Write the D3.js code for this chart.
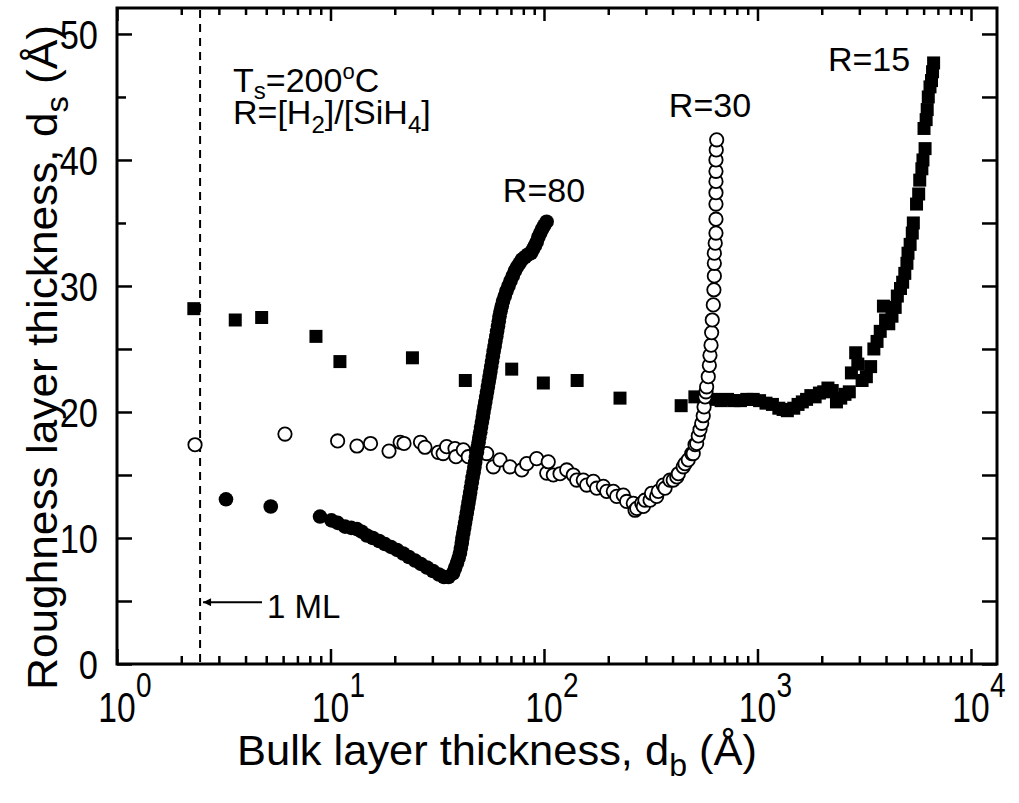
<!DOCTYPE html>
<html><head><meta charset="utf-8">
<script src="https://cdn.jsdelivr.net/npm/d3@7"></script>
<style>
body{margin:0;background:#fff}
text{font-family:Arial,"Liberation Sans",sans-serif;fill:#000}
</style>
</head><body>
<svg id="c" width="1019" height="803"></svg>
<script>
// ---- data ----
const xMajorTicks = [1, 10, 100, 1000, 10000];
const xTickBase = ["10", "10", "10", "10", "10"];
const xTickExp = ["0", "1", "2", "3", "4"];
const yLabelTicks = [0, 10, 20, 30, 40, 50];
const yAllTicks = [0, 5, 10, 15, 20, 25, 30, 35, 40, 45, 50];
const yShortLeft = [35, 45];
const monolayer = 2.45;

// R = 15 (filled squares)
const r15X = [2.29, 3.58, 4.76, 8.55, 11.07, 24.2, 42.8, 70.6, 99.3, 143, 227, 439, 509,
  631, 676, 724, 776, 832, 891, 955, 1023, 1096, 1175, 1259, 1318, 1380, 1479, 1549, 1622, 1698, 1778,
  1862, 1950, 2042, 2138, 2239, 2344, 2455, 2570, 2692, 2754, 2884, 2951, 3090, 3236, 3388, 3508, 3631,
  3758, 3890, 3981, 4121, 4266, 4416, 4519, 4677, 4786, 4898, 5012, 5070, 5188, 5309, 5370, 5559, 5689,
  5754, 5888, 5957, 6095, 6026, 6166, 6237, 6310, 6427, 6531, 6607, 6683];
const r15Y = [28.2, 27.3, 27.5, 26.0, 24.0, 24.3, 22.5, 23.4, 22.3, 22.5, 21.1, 20.5, 21.2,
  21.0, 20.9, 21.0, 20.9, 20.9, 21.0, 21.0, 20.9, 20.7, 20.6, 20.3, 20.2, 20.1, 20.3, 20.6, 20.8, 21.0, 21.3,
  21.2, 21.5, 21.6, 21.9, 21.7, 20.8, 21.1, 21.4, 21.6, 23.1, 24.7, 23.8, 22.5, 22.8, 23.6, 25.0, 25.6,
  26.4, 28.4, 27.3, 27.0, 27.6, 28.3, 29.2, 29.8, 30.3, 31.0, 31.8, 32.6, 33.3, 34.2, 35.0, 36.5, 37.3,
  38.4, 39.3, 40.0, 40.9, 42.5, 43.2, 44.0, 45.0, 45.8, 46.3, 47.0, 47.7, 48.2];

// R = 30 (open circles)
const r30X = [2.32, 6.12, 10.8, 13.3, 15.4, 18.8, 21.2, 22.1, 26.4, 27.7, 32.0, 33.7, 35.0, 38.3, 38.7,
  41.9, 44.2, 48.4, 53.9, 57.9, 62.2, 69.3, 78.7, 83.0, 92.4, 103, 104.7, 110.6, 118.9, 127.8, 137.2,
  142.3, 152.8, 158.5, 170.3, 176.6, 189.6, 196.7, 211.2, 219.1, 235.2, 244, 262, 267, 272, 287, 292,
  297, 314, 319, 337, 343, 362, 369, 389, 403, 419, 426, 449, 458, 474, 492, 500, 510, 519, 528, 538,
  548, 557, 562, 568, 574, 578, 588, 595, 599, 606, 610, 614, 621, 625, 628, 628, 628, 634, 639, 639,
  639, 639, 639, 639, 639, 641, 644];
const r30Y = [17.4, 18.25, 17.7, 17.3, 17.5, 16.9, 17.6, 17.5, 17.6, 17.2, 16.8, 16.7, 17.25, 17.1, 16.45,
  17.0, 16.45, 16.85, 16.7, 15.65, 16.2, 15.65, 15.4, 15.9, 16.3, 15.15, 16.05, 15.0, 15.1, 15.4, 15.0,
  14.6, 14.6, 14.2, 14.5, 13.95, 14.1, 13.7, 13.7, 13.3, 13.4, 12.9, 12.75, 12.2, 12.35, 12.75, 12.5,
  13.0, 13.0, 13.55, 13.3, 13.7, 14.2, 13.95, 14.6, 14.6, 14.85, 15.1, 15.65, 15.9, 16.2, 16.7, 16.7,
  17.4, 17.5, 18.1, 18.6, 19.1, 19.7, 20.4, 21.2, 21.6, 22.0, 22.8, 23.7, 24.5, 25.3, 26.3, 27.3, 28.5,
  29.7, 30.8, 31.8, 32.6, 33.4, 34.2, 35.3, 36.5, 37.4, 38.3, 39.1, 40.0, 40.8, 41.6];

// R = 80 (filled circles)
const r80X = [3.24, 5.25, 8.93, 10.1, 10.8, 11.7, 12.5, 13.3, 14.0, 14.8, 15.8, 16.9, 18.0, 19.2, 20.5,
  21.9, 23.3, 24.9, 26.5, 28.3, 30.2, 32.2, 34.0, 35.7,
  37.5, 38.3, 39.1, 39.8, 40.4, 40.8, 41.2, 41.5, 41.9, 42.3, 42.7, 43.1, 43.5, 43.9, 44.3, 44.7, 45.1,
  45.5, 45.9, 46.3, 46.8, 47.2, 47.6, 48.0, 48.5, 48.9, 49.4, 49.8, 50.3, 50.7, 51.2, 51.7, 52.1, 52.6,
  53.1, 53.6, 54.1, 54.6, 55.1, 55.6, 56.1, 56.6, 57.1, 57.6, 58.1, 58.7, 59.2, 59.8, 60.3, 60.9, 61.4,
  61.9, 62.6, 63.4, 64.3, 65.5, 66.7, 68.2, 69.7, 71.4, 73.1, 74.7, 76.8, 78.9, 81.5, 84.2, 86.9, 88.8,
  90.7, 92.5, 94.2, 96.0, 97.9, 100.3, 102.9];
const r80Y = [13.07, 12.5, 11.7, 11.4, 11.2, 10.9, 10.8, 10.7, 10.5, 10.2, 10.0, 9.76, 9.52, 9.29, 9.05,
  8.77, 8.49, 8.21, 7.94, 7.66, 7.38, 7.10, 6.90, 6.90,
  7.2, 7.6, 8.0, 8.4, 8.8, 9.2, 9.6, 10.0, 10.4, 10.8, 11.2, 11.6, 12.0, 12.4, 12.8, 13.2, 13.6,
  14.0, 14.4, 14.8, 15.2, 15.6, 16.0, 16.4, 16.8, 17.2, 17.6, 18.0, 18.4, 18.8, 19.2, 19.6, 20.0, 20.4,
  20.8, 21.2, 21.6, 22.0, 22.4, 22.8, 23.2, 23.6, 24.0, 24.4, 24.8, 25.2, 25.6, 26.0, 26.4, 26.8, 27.2,
  27.6, 28.0, 28.4, 28.8, 29.2, 29.6, 30.0, 30.4, 30.8, 31.2, 31.5, 31.8, 32.1, 32.3, 32.5, 32.6, 32.9,
  33.2, 33.5, 33.9, 34.2, 34.5, 34.8, 35.1];

const seriesLabels = [
  {text: "R=80", x: 100, y: 36.7},
  {text: "R=30", x: 599, y: 43.4},
  {text: "R=15", x: 3330, y: 47.1}
];

// ---- layout ----
const L = 117, R = 997, T = 8, B = 664;
const svg = d3.select("#c");
const x = d3.scaleLog().domain([1, 13240]).range([L, R]);
const y = d3.scaleLinear().domain([0, 52.06]).range([B, T]);

const minorX = x.ticks().filter(v => !xMajorTicks.includes(v) && v < 10000);

function axis(gen, tr) {
  const g = svg.append("g").attr("transform", tr).call(gen);
  g.select(".domain").remove();
  g.selectAll(".tick line").attr("stroke", "#000").attr("stroke-width", 2.5);
  g.selectAll(".tick text").remove();
  return g;
}
axis(d3.axisBottom(x).tickValues(xMajorTicks).tickSize(-15).tickFormat(""), `translate(0,${B})`);
axis(d3.axisBottom(x).tickValues(minorX).tickSize(-8).tickFormat(""), `translate(0,${B})`);
axis(d3.axisTop(x).tickValues(xMajorTicks).tickSize(-13).tickFormat(""), `translate(0,${T})`);
axis(d3.axisTop(x).tickValues(minorX).tickSize(-7).tickFormat(""), `translate(0,${T})`);
axis(d3.axisLeft(y).tickValues(yAllTicks.filter(v => !yShortLeft.includes(v))).tickSize(-15).tickFormat(""), `translate(${L},0)`);
axis(d3.axisLeft(y).tickValues(yShortLeft).tickSize(-9).tickFormat(""), `translate(${L},0)`);
axis(d3.axisRight(y).tickValues(yAllTicks).tickSize(-15).tickFormat(""), `translate(${R},0)`);

// frame
svg.append("rect").attr("x", L).attr("y", T).attr("width", R - L).attr("height", B - T)
  .attr("fill", "none").attr("stroke", "#000").attr("stroke-width", 3);

// narrow-looking text helper
function ntext(g, px, py, str, size, anchor, sx) {
  return g.append("text").attr("transform", `translate(${px},${py}) scale(${sx},1)`)
    .attr("text-anchor", anchor).attr("font-size", size).text(str);
}

// y tick labels
const yl = svg.append("g");
yLabelTicks.forEach(v => ntext(yl, L - 19, y(v) + 15, String(v), 41, "end", 0.84));

// x tick labels
const xl = svg.append("g");
xMajorTicks.forEach((v, i) => {
  ntext(xl, x(v), 722, xTickBase[i], 42, "middle", 0.8);
  ntext(xl, x(v) + 19, 697, xTickExp[i], 35, "start", 0.8);
});

// axis titles
const xt = svg.append("text").attr("x", 237).attr("y", 765).attr("font-size", 42)
  .attr("textLength", 520).attr("lengthAdjust", "spacingAndGlyphs");
xt.append("tspan").text("Bulk layer thickness, d");
xt.append("tspan").attr("font-size", 31).attr("dy", 11).text("b");
xt.append("tspan").attr("dy", -11).text(" (Å)");

const yt = svg.append("text").attr("transform", "translate(57,690) rotate(-90)").attr("font-size", 42)
  .attr("textLength", 665).attr("lengthAdjust", "spacingAndGlyphs");
yt.append("tspan").text("Roughness layer thickness, d");
yt.append("tspan").attr("font-size", 31).attr("dy", 11).text("s");
yt.append("tspan").attr("dy", -11).text(" (Å)");

// monolayer dashed line
svg.append("line").attr("x1", x(monolayer)).attr("x2", x(monolayer)).attr("y1", T + 2).attr("y2", B)
  .attr("stroke", "#000").attr("stroke-width", 2).attr("stroke-dasharray", "8,6");

// arrow + 1 ML
svg.append("defs").append("marker").attr("id", "ah").attr("viewBox", "0 0 10 10")
  .attr("refX", 10).attr("refY", 5).attr("markerWidth", 12).attr("markerHeight", 8)
  .attr("markerUnits", "userSpaceOnUse").attr("orient", "auto")
  .append("path").attr("d", "M0,0 L10,5 L0,10 Z").attr("fill", "#000");
svg.append("line").attr("x1", 262).attr("x2", x(monolayer) + 3).attr("y1", y(4.9)).attr("y2", y(4.9))
  .attr("stroke", "#000").attr("stroke-width", 2).attr("marker-end", "url(#ah)");
svg.append("text").attr("x", 267).attr("y", 618).attr("font-size", 33).text("1 ML");

// annotation block
const a1 = svg.append("text").attr("x", 233).attr("y", 92).attr("font-size", 34);
a1.append("tspan").text("T");
a1.append("tspan").attr("font-size", 24).attr("dy", 7).text("s");
a1.append("tspan").attr("dy", -7).text("=200");
a1.append("tspan").attr("font-size", 22).attr("dy", -13).text("o");
a1.append("tspan").attr("dy", 13).text("C");
const a2 = svg.append("text").attr("x", 233).attr("y", 124).attr("font-size", 34);
a2.append("tspan").text("R=[H");
a2.append("tspan").attr("font-size", 24).attr("dy", 9).text("2");
a2.append("tspan").attr("dy", -9).text("]/[SiH");
a2.append("tspan").attr("font-size", 24).attr("dy", 9).text("4");
a2.append("tspan").attr("dy", -9).text("]");

// ---- marks ----
const r15 = r15X.map((v, i) => [v, r15Y[i]]);
const r30 = r30X.map((v, i) => [v, r30Y[i]]);
const r80 = r80X.map((v, i) => [v, r80Y[i]]);

svg.append("g").selectAll("path").data(r15).join("path")
  .attr("transform", d => `translate(${x(d[0])},${y(d[1])})`)
  .attr("d", d3.symbol(d3.symbolSquare, 169)).attr("fill", "#000");

svg.append("g").selectAll("circle").data(r30).join("circle")
  .attr("cx", d => x(d[0])).attr("cy", d => y(d[1])).attr("r", 6.7)
  .attr("fill", "#fff").attr("stroke", "#000").attr("stroke-width", 1.8);

svg.append("g").selectAll("circle").data(r80).join("circle")
  .attr("cx", d => x(d[0])).attr("cy", d => y(d[1])).attr("r", 7.3)
  .attr("fill", "#000");

svg.append("g").selectAll("text").data(seriesLabels).join("text")
  .attr("x", d => x(d.x)).attr("y", d => y(d.y)).attr("text-anchor", "middle")
  .attr("font-size", 34).text(d => d.text);
</script>
</body></html>
